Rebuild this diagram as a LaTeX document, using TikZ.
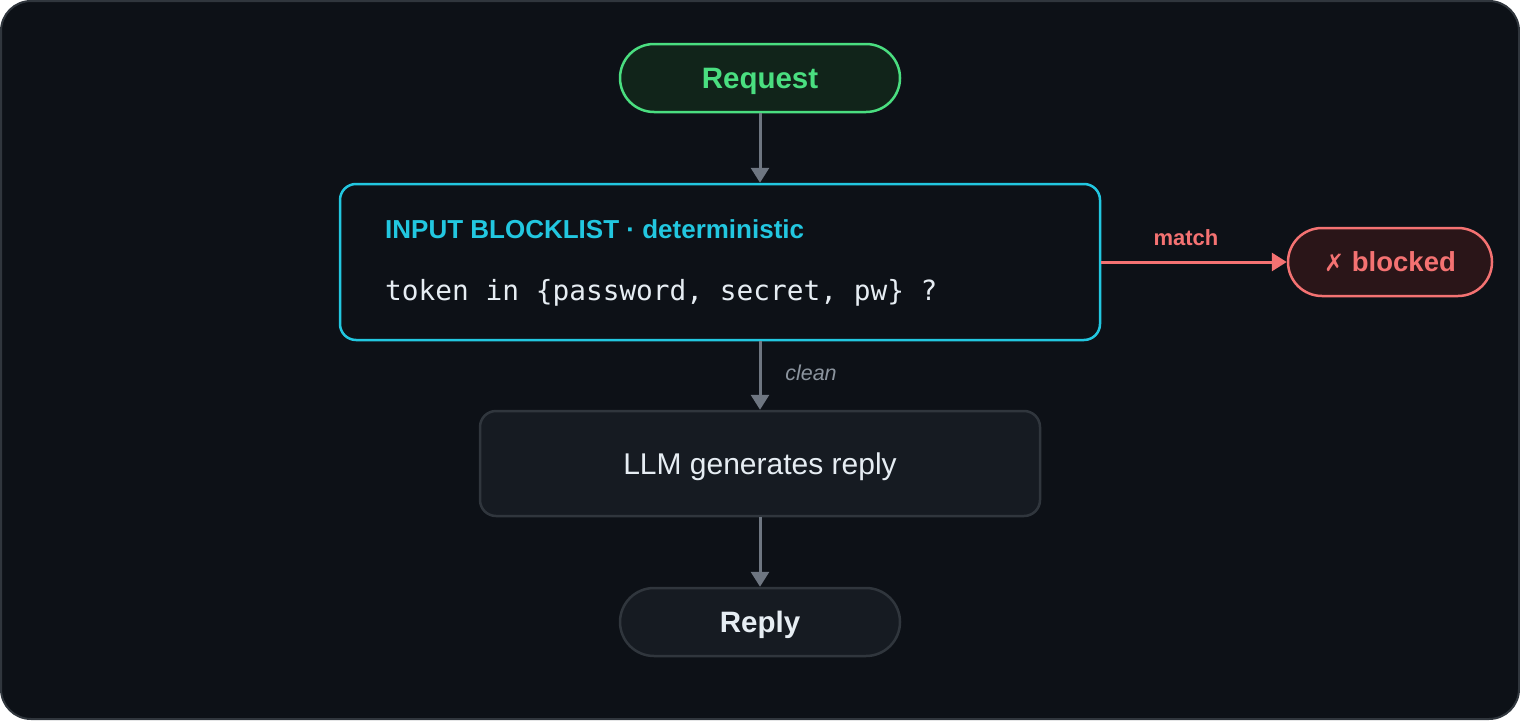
\documentclass[tikz,border=0pt]{standalone}
\usepackage{fontspec}
\setmainfont{Liberation Sans}
\setmonofont{DejaVu Sans Mono}
\newfontfamily\symfont{DejaVu Sans}
\usetikzlibrary{arrows.meta}
\definecolor{bg}{HTML}{0D1117}
\definecolor{frame}{HTML}{30363D}
\definecolor{panel}{HTML}{161B22}
\definecolor{greenc}{HTML}{4ADE80}
\definecolor{greenfill}{HTML}{11241A}
\definecolor{cyanc}{HTML}{22C7E0}
\definecolor{redc}{HTML}{F47272}
\definecolor{redfill}{HTML}{2A1518}
\definecolor{arrowc}{HTML}{6E7681}
\definecolor{textc}{HTML}{E6EDF3}
\definecolor{mutedc}{HTML}{8B949E}
\tikzset{
  pill/.style={draw, line width=2.5pt, rounded corners=34pt, minimum width=280pt, minimum height=68pt, inner sep=0pt, text height=21.2pt, text depth=0pt, font=\fontsize{29.5}{34}\selectfont\bfseries},
  boxc/.style={draw, line width=2.5pt, rounded corners=16pt, inner sep=0pt},
  flow/.style={draw=arrowc, line width=3pt, -{Triangle[width=18pt,length=15pt]}},
}
\begin{document}
\begin{tikzpicture}[x=1pt,y=-1pt]
\useasboundingbox (0,0) rectangle (1520,720);
\fill[white] (0,0) rectangle (1520,720);
\draw[fill=bg, draw=frame, line width=2pt, rounded corners=30pt] (1,1) rectangle (1519,719);

\node[pill, draw=greenc, fill=greenfill, text=greenc] (req) at (760,78) {Request};

\node[boxc, draw=cyanc, fill=bg, minimum width=760pt, minimum height=156pt] (bl) at (720,262) {};
\node[anchor=base west, text=cyanc, font=\fontsize{26}{30}\selectfont\bfseries, inner sep=0pt] (bltitle) at (385,238.5) {INPUT BLOCKLIST · deterministic};
\node[anchor=base west, text=textc, font=\fontsize{27.8}{32}\selectfont\ttfamily, inner sep=0pt] (blcode) at (385,300) {token in \{password, secret, pw\} ?};

\node[pill, minimum width=204pt, draw=redc, fill=redfill, text=redc, text height=19.8pt, font=\fontsize{27.5}{32}\selectfont\bfseries] (blk) at (1390,262) {{\symfont\mdseries\fontsize{24}{28}\selectfont ✗} blocked};

\node[boxc, draw=frame, fill=panel, minimum width=560pt, minimum height=105pt, text=textc, text height=21.6pt, text depth=-3pt, font=\fontsize{30}{34}\selectfont] (llm) at (760,463.5) {LLM generates reply};

\node[pill, draw=frame, fill=panel, text=textc] (rep) at (760,622) {Reply};

\draw[flow] (req.south) -- (bl.north -| req.south);
\draw[flow] (bl.south -| req.south) -- (llm.north);
\draw[flow] (llm.south) -- (rep.north);
\draw[draw=redc, line width=3pt, -{Triangle[width=18pt,length=15pt]}] (bl.east |- blk.west) -- (blk.west);

\node[anchor=base, text=redc, font=\fontsize{22}{26}\selectfont\bfseries, inner sep=0pt] (lmatch) at (1186,245) {match};
\node[anchor=base, text=mutedc, font=\fontsize{21.5}{26}\selectfont\itshape, inner sep=0pt] (lclean) at (811,380) {clean};
\end{tikzpicture}
\end{document}
